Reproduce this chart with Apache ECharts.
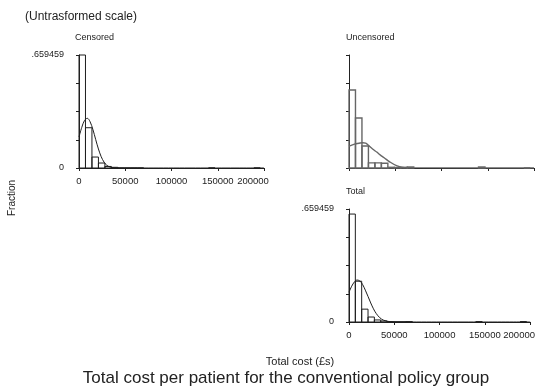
<!DOCTYPE html>
<html><head><meta charset="utf-8">
<script src="https://cdn.jsdelivr.net/npm/echarts/dist/echarts.min.js"></script>
<style>html,body{margin:0;padding:0;background:#fff}#c{width:538px;height:390px}</style>
</head><body><div id="c"></div>
<script>
// ---- data ----
const panelNames = ['Censored', 'Uncensored', 'Total'];
const xTickValues = [0, 50000, 100000, 150000, 200000];
const yTickLabels = ['0', '', '', '', '.659459'];
const yMax = 0.659459;

// histogram bins (cost in £)
const binStarts = [0, 7000, 14000, 21000, 28000, 35000, 42000, 49000, 56000, 63000, 140000, 189000];
const binEnds   = [7000, 14000, 21000, 28000, 35000, 42000, 49000, 56000, 63000, 70000, 147000, 196000];
const censoredFraction   = [0.659459, 0.235, 0.064, 0.029, 0.009, 0.004, 0, 0, 0, 0, 0, 0];
const uncensoredFraction = [0.455, 0.292, 0.128, 0.030, 0.030, 0.028, 0.004, 0.003, 0.004, 0.006, 0.006, 0];
const totalFraction      = [0.630, 0.238, 0.075, 0.029, 0.012, 0.006, 0.002, 0.001, 0.001, 0.002, 0.002, 0.002];

// overlaid normal density curves (fraction scale)
const curveX = [0, 3000, 6000, 9000, 12000, 15000, 18000, 21000, 24000, 27000, 30000, 34000, 38000, 44000, 52000, 60000, 200000];
const censoredCurve   = [0.181, 0.237, 0.278, 0.290, 0.270, 0.225, 0.167, 0.111, 0.066, 0.035, 0.016, 0.005, 0.001, 0, 0, 0, 0];
const uncensoredCurve = [0.128, 0.134, 0.139, 0.143, 0.146, 0.147, 0.145, 0.132, 0.118, 0.105, 0.093, 0.075, 0.060, 0.036, 0.012, 0.002, 0];
const totalCurve      = [0.174, 0.209, 0.234, 0.245, 0.239, 0.219, 0.186, 0.149, 0.111, 0.077, 0.050, 0.025, 0.011, 0.003, 0, 0, 0];

// ---- chart ----
const FONT = '"Liberation Sans", Arial, sans-serif';
const X_MAX = xTickValues[xTickValues.length - 1];
const panels = [
  {name: panelNames[0], left: 79,  top: 55,  frac: censoredFraction,   curve: censoredCurve,   color: '#1e1e1e', lw: 1,   xl: true,  yl: true},
  {name: panelNames[1], left: 349, top: 55,  frac: uncensoredFraction, curve: uncensoredCurve, color: '#666666', lw: 1.4, xl: false, yl: false},
  {name: panelNames[2], left: 349, top: 209, frac: totalFraction,      curve: totalCurve,      color: '#1e1e1e', lw: 1,   xl: true,  yl: true}
];

const grid = [], xAxis = [], yAxis = [], series = [];
panels.forEach((p, i) => {
  grid.push({left: p.left, top: p.top, width: 185, height: 113});
  xAxis.push({
    type: 'value', gridIndex: i, min: xTickValues[0], max: X_MAX,
    interval: xTickValues[1] - xTickValues[0], offset: 4,
    axisLine: {show: true, lineStyle: {color: '#222', width: 1}},
    axisTick: {show: true, length: 3, lineStyle: {color: '#222'}},
    axisLabel: {show: p.xl, fontSize: 9.5, fontFamily: FONT, color: '#222', margin: 4,
                showMaxLabel: true, showMinLabel: true, hideOverlap: false, interval: 0,
                formatter: v => (v === X_MAX ? '{m|' + v + '}' : String(v)),
                rich: {m: {fontSize: 9.5, fontFamily: FONT, color: '#222', padding: [0, 22, 0, 0]}}},
    splitLine: {show: false}
  });
  yAxis.push({
    type: 'value', gridIndex: i, min: 0, max: yMax, interval: yMax / 4, offset: 4,
    axisLine: {show: true, lineStyle: {color: '#222', width: 1}},
    axisTick: {show: true, length: 3, lineStyle: {color: '#222'}},
    axisLabel: {show: p.yl, fontSize: 9, fontFamily: FONT, color: '#222', margin: 11,
                showMaxLabel: true, showMinLabel: true,
                formatter: (v, idx) => (yTickLabels[idx] !== undefined ? yTickLabels[idx] : '')},
    splitLine: {show: false}
  });
  const barData = binStarts.map((s, k) => [s, binEnds[k], p.frac[k]]);
  series.push({
    type: 'custom', xAxisIndex: i, yAxisIndex: i, data: barData, silent: true,
    encode: {x: [0, 1], y: 2},
    renderItem: (params, api) => {
      const a = api.coord([api.value(0), 0]);
      const b = api.coord([api.value(1), api.value(2)]);
      return {type: 'rect',
        shape: {x: a[0], y: b[1], width: b[0] - a[0], height: a[1] - b[1]},
        style: {fill: 'none', stroke: p.color, lineWidth: p.lw}};
    }
  });
  series.push({
    type: 'line', xAxisIndex: i, yAxisIndex: i, showSymbol: false, smooth: 0.35,
    data: curveX.map((x, k) => [x, p.curve[k]]),
    lineStyle: {color: p.color, width: p.lw}, silent: true
  });
});

const txt = (x, y, text, size, extra) => ({
  type: 'text', x: x, y: y,
  style: Object.assign({text: text, fontSize: size, fontFamily: FONT, fill: '#222',
                        align: 'left', verticalAlign: 'middle'}, extra || {})
});

const graphic = [
  txt(25, 17, '(Untrasformed scale)', 12),
  txt(75, 38, panelNames[0], 9),
  txt(346, 38, panelNames[1], 9),
  txt(346, 192, panelNames[2], 9),
  Object.assign(txt(12, 198, 'Fraction', 10, {align: 'center'}), {rotation: Math.PI / 2}),
  txt(300, 362, 'Total cost (£s)', 11, {align: 'center'}),
  txt(286, 378, 'Total cost per patient for the conventional policy group', 17, {align: 'center'})
];

const chart = echarts.init(document.getElementById('c'), null, {renderer: 'canvas'});
chart.setOption({
  animation: false, backgroundColor: '#fff',
  grid: grid, xAxis: xAxis, yAxis: yAxis, series: series, graphic: graphic
});
</script>
</body></html>
